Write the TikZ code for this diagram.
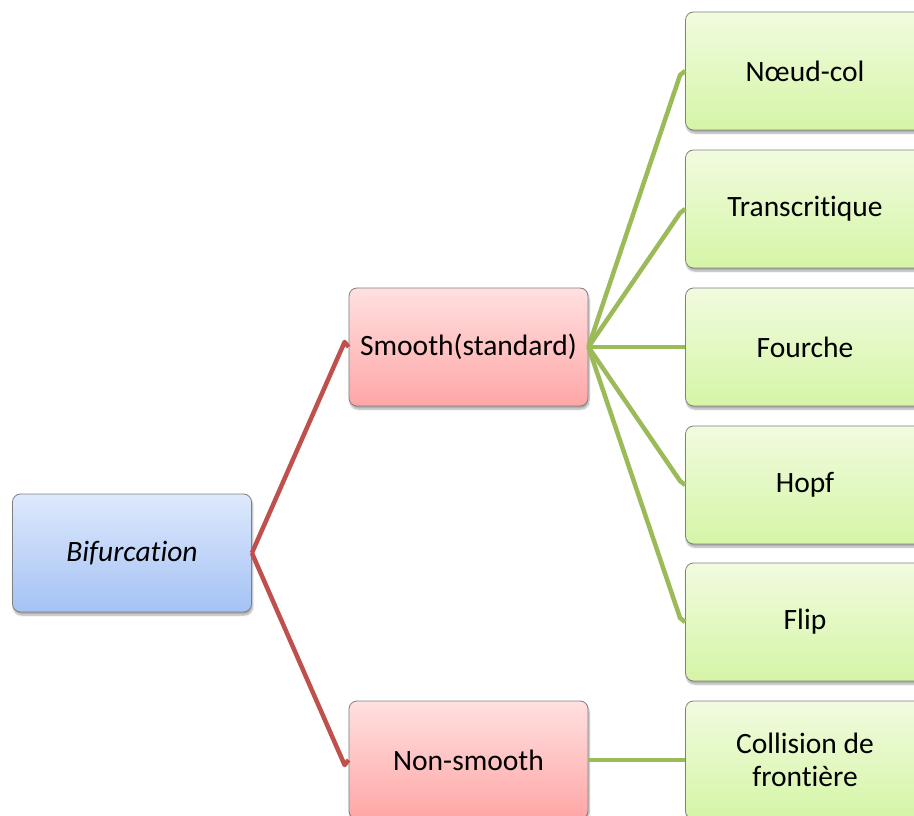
\documentclass[tikz,border=0pt]{standalone}
\usepackage{fontspec}
\setmainfont{Carlito}[Ligatures={NoCommon}]
\usetikzlibrary{shadows.blur}
\definecolor{boxline}{RGB}{128,128,128}
\definecolor{redline}{RGB}{192,80,77}
\definecolor{greenline}{RGB}{155,187,89}
\begin{document}
\begin{tikzpicture}[
  box/.style={draw=boxline, line width=0.8pt, rounded corners=8pt,
    minimum width=239pt, minimum height=118pt, align=center,
    font=\fontsize{29.5}{33}\selectfont,
    blur shadow={shadow xshift=1pt, shadow yshift=-3pt, shadow blur steps=6, shadow opacity=35}},
  rootbox/.style={box, top color={rgb,255:red,222;green,233;blue,252}, bottom color={rgb,255:red,164;green,194;blue,245}},
  midbox/.style={box, top color={rgb,255:red,255;green,224;blue,224}, bottom color={rgb,255:red,255;green,166;blue,166}},
  leafbox/.style={box, top color={rgb,255:red,241;green,251;blue,223}, bottom color={rgb,255:red,213;green,245;blue,166}},
  redlink/.style={draw=redline, line width=4.5pt, line join=round},
  greenlink/.style={draw=greenline, line width=4.5pt, line join=round}]
\useasboundingbox (0pt,0pt) rectangle (914pt,-816pt);
% boxes
\node[rootbox] (bif) at (132pt,-553pt) {\itshape Bifurcation};
\node[midbox] (smooth) at (468.5pt,-347pt) {Smooth(standard)};
\node[midbox] (nonsmooth) at (468.5pt,-760pt) {Non-smooth};
\node[leafbox] (noeud) at (805pt,-71pt) {Nœud-col};
\node[leafbox] (trans) at (805pt,-209pt) {Transcritique};
\node[leafbox] (fourche) at (805pt,-347pt) {Fourche};
\node[leafbox] (hopf) at (805pt,-485pt) {Hopf};
\node[leafbox] (flip) at (805pt,-622pt) {Flip};
\node[leafbox] (collision) at (805pt,-760pt) {Collision de\\frontière};
% links
\draw[redlink] (bif.east) -- ([xshift=-4pt,yshift=5pt]smooth.west) -- (smooth.west);
\draw[redlink] (bif.east) -- ([xshift=-4pt,yshift=-5pt]nonsmooth.west) -- (nonsmooth.west);
\draw[greenlink] (smooth.east) -- ([xshift=-5pt,yshift=-4pt]noeud.west) -- (noeud.west);
\draw[greenlink] (smooth.east) -- ([xshift=-5pt,yshift=-4pt]trans.west) -- (trans.west);
\draw[greenlink] (smooth.east) -- (fourche.west);
\draw[greenlink] (smooth.east) -- ([xshift=-5pt,yshift=4pt]hopf.west) -- (hopf.west);
\draw[greenlink] (smooth.east) -- ([xshift=-5pt,yshift=4pt]flip.west) -- (flip.west);
\draw[greenlink] (nonsmooth.east) -- (collision.west);
\end{tikzpicture}
\end{document}
